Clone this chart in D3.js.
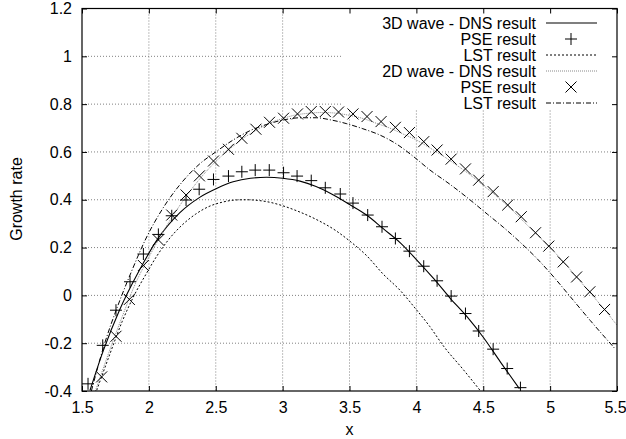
<!DOCTYPE html>
<html>
<head>
<meta charset="utf-8">
<script src="https://cdn.jsdelivr.net/npm/d3@7"></script>
<style>
  body { margin: 0; background: #fff; }
  svg text { font-family: "Liberation Sans", Arial, sans-serif; font-size: 16px; fill: #000; }
</style>
</head>
<body>
<div id="chart"></div>
<script>
// tick values / labels
var xTicks = [1.5, 2, 2.5, 3, 3.5, 4, 4.5, 5, 5.5];
var xTickLabels = ["1.5", "2", "2.5", "3", "3.5", "4", "4.5", "5", "5.5"];
var yTicks = [-0.4, -0.2, 0, 0.2, 0.4, 0.6, 0.8, 1, 1.2];
var yTickLabels = ["-0.4", "-0.2", "0", "0.2", "0.4", "0.6", "0.8", "1", "1.2"];

// 3D wave - DNS result (solid)
var dns3dX = [1.56, 1.66, 1.78, 1.93, 2.06, 2.23, 2.38, 2.51, 2.63, 2.76, 2.88, 3.0, 3.13, 3.25, 3.38, 3.5, 3.63, 3.75, 3.88, 4.0, 4.13, 4.25, 4.38, 4.5, 4.63, 4.77];
var dns3dY = [-0.397, -0.23, -0.062, 0.106, 0.231, 0.345, 0.41, 0.448, 0.475, 0.49, 0.494, 0.49, 0.478, 0.455, 0.42, 0.38, 0.335, 0.28, 0.22, 0.15, 0.07, -0.01, -0.09, -0.175, -0.28, -0.39];

// 3D wave - PSE result (+)
var pse3dX = [1.545, 1.655, 1.754, 1.859, 1.959, 2.071, 2.171, 2.278, 2.376, 2.483, 2.595, 2.695, 2.795, 2.900, 3.007, 3.108, 3.214, 3.319, 3.431, 3.526, 3.636, 3.743, 3.843, 3.948, 4.055, 4.155, 4.260, 4.367, 4.466, 4.574, 4.679, 4.778];
var pse3dY = [-0.37, -0.209, -0.062, 0.057, 0.173, 0.255, 0.333, 0.399, 0.444, 0.485, 0.499, 0.517, 0.524, 0.524, 0.513, 0.499, 0.480, 0.450, 0.424, 0.386, 0.336, 0.287, 0.238, 0.185, 0.122, 0.061, -0.003, -0.076, -0.149, -0.225, -0.306, -0.386];

// 3D wave - LST result (dotted)
var lst3dX = [1.61, 1.71, 1.80, 1.89, 1.98, 2.06, 2.15, 2.25, 2.35, 2.45, 2.55, 2.65, 2.72, 2.8, 2.9, 3.0, 3.1, 3.25, 3.4, 3.5, 3.63, 3.75, 3.88, 4.0, 4.1, 4.2, 4.35, 4.48];
var lst3dY = [-0.397, -0.243, -0.11, 0.0, 0.09, 0.165, 0.235, 0.295, 0.34, 0.372, 0.39, 0.399, 0.40, 0.398, 0.39, 0.375, 0.355, 0.318, 0.27, 0.228, 0.165, 0.09, 0.02, -0.06, -0.13, -0.21, -0.31, -0.40];

// 2D wave - DNS result (grey dotted)
var dns2dX = [1.6, 1.7, 1.8, 1.9, 2.0, 2.1, 2.2, 2.3, 2.4, 2.5, 2.6, 2.7, 2.8, 2.9, 3.0, 3.1, 3.2, 3.3, 3.4, 3.5, 3.6, 3.7, 3.8, 3.9, 4.0, 4.1, 4.2, 4.3, 4.4, 4.5, 4.6, 4.7, 4.8, 4.9, 5.0, 5.1, 5.2, 5.3, 5.4, 5.5];
var dns2dY = [-0.40, -0.24, -0.09, 0.05, 0.16, 0.26, 0.35, 0.43, 0.50, 0.56, 0.61, 0.655, 0.69, 0.72, 0.74, 0.755, 0.762, 0.765, 0.762, 0.753, 0.74, 0.72, 0.70, 0.675, 0.65, 0.617, 0.583, 0.545, 0.505, 0.46, 0.415, 0.365, 0.31, 0.255, 0.20, 0.14, 0.075, 0.01, -0.055, -0.125];

// 2D wave - PSE result (x)
var pse2dX = [1.647, 1.754, 1.854, 1.959, 2.071, 2.171, 2.278, 2.378, 2.483, 2.595, 2.695, 2.800, 2.902, 3.007, 3.111, 3.214, 3.319, 3.418, 3.526, 3.631, 3.736, 3.843, 3.948, 4.055, 4.155, 4.260, 4.367, 4.466, 4.574, 4.683, 4.784, 4.891, 4.990, 5.098, 5.198, 5.297, 5.407];
var pse2dY = [-0.341, -0.171, -0.017, 0.125, 0.232, 0.336, 0.420, 0.500, 0.562, 0.611, 0.657, 0.695, 0.724, 0.741, 0.759, 0.769, 0.769, 0.767, 0.759, 0.748, 0.727, 0.703, 0.681, 0.643, 0.608, 0.570, 0.529, 0.482, 0.434, 0.378, 0.329, 0.262, 0.206, 0.140, 0.077, 0.015, -0.059];

// 2D wave - LST result (dash-dot)
var lst2dX = [1.57, 1.67, 1.77, 1.87, 1.98, 2.1, 2.25, 2.38, 2.5, 2.63, 2.76, 2.88, 3.0, 3.13, 3.25, 3.36, 3.48, 3.6, 3.73, 3.86, 3.98, 4.1, 4.25, 4.4, 4.53, 4.65, 4.78, 4.9, 5.03, 5.15, 5.3, 5.48];
var lst2dY = [-0.40, -0.20, -0.04, 0.10, 0.24, 0.36, 0.475, 0.55, 0.60, 0.65, 0.69, 0.715, 0.733, 0.743, 0.743, 0.734, 0.718, 0.697, 0.67, 0.63, 0.58, 0.525, 0.465, 0.40, 0.34, 0.285, 0.22, 0.155, 0.075, -0.005, -0.105, -0.22];

var legendLabels = ["3D wave - DNS result", "PSE result", "LST result", "2D wave - DNS result", "PSE result", "LST result"];

var W = 626, H = 439;
var margin = {top: 8.5, right: 9, bottom: 48, left: 82};
var width = W - margin.left - margin.right,
    height = H - margin.top - margin.bottom;

var svg = d3.select("#chart").append("svg")
    .attr("width", W)
    .attr("height", H)
  .append("g")
    .attr("transform", "translate(" + margin.left + "," + margin.top + ")");

var x = d3.scaleLinear().domain([1.5, 5.5]).range([0, width]);
var y = d3.scaleLinear().domain([-0.4, 1.2]).range([height, 0]);

// grid
svg.append("g").attr("class", "grid")
  .selectAll("line.gx")
  .data(xTicks.slice(1, -1))
  .enter().append("line")
  .attr("x1", function(d){ return x(d); }).attr("x2", function(d){ return x(d); })
  .attr("y1", 0).attr("y2", height)
  .attr("stroke", "#808080").attr("stroke-width", 1).attr("stroke-dasharray", "1,2");
svg.select(".grid")
  .selectAll("line.gy")
  .data(yTicks.slice(1, -1))
  .enter().append("line")
  .attr("x1", 0).attr("x2", width)
  .attr("y1", function(d){ return y(d); }).attr("y2", function(d){ return y(d); })
  .attr("stroke", "#808080").attr("stroke-width", 1).attr("stroke-dasharray", "1,2");

// key background hides grid
var keyLeft = 343 - margin.left;
svg.append("rect")
  .attr("x", keyLeft).attr("y", 0)
  .attr("width", width - keyLeft).attr("height", 110 - margin.top)
  .attr("fill", "#fff");

svg.append("clipPath").attr("id", "clip")
  .append("rect").attr("width", width).attr("height", height);

function toPts(xs, ys){
  return xs.map(function(v, i){ return [v, ys[i]]; });
}

var line = d3.line()
  .x(function(d){ return x(d[0]); })
  .y(function(d){ return y(d[1]); })
  .curve(d3.curveMonotoneX);

var plot = svg.append("g").attr("clip-path", "url(#clip)");

var styles = [
  {stroke: "#000", dash: null, w: 1.1},
  {stroke: "#000", dash: "2,2", w: 1},
  {stroke: "#888", dash: "1,1", w: 1},
  {stroke: "#000", dash: "5,2,1,2", w: 1}
];

plot.append("path").datum(toPts(dns3dX, dns3dY))
  .attr("d", line).attr("fill", "none")
  .attr("stroke", styles[0].stroke).attr("stroke-width", styles[0].w);
plot.append("path").datum(toPts(lst3dX, lst3dY))
  .attr("d", line).attr("fill", "none")
  .attr("stroke", styles[1].stroke).attr("stroke-width", styles[1].w).attr("stroke-dasharray", styles[1].dash);
plot.append("path").datum(toPts(dns2dX, dns2dY))
  .attr("d", line).attr("fill", "none")
  .attr("stroke", styles[2].stroke).attr("stroke-width", styles[2].w).attr("stroke-dasharray", styles[2].dash);
plot.append("path").datum(toPts(lst2dX, lst2dY))
  .attr("d", line).attr("fill", "none")
  .attr("stroke", styles[3].stroke).attr("stroke-width", styles[3].w).attr("stroke-dasharray", styles[3].dash);

var ms = 6;
function plusPath(cx, cy){
  return "M" + (cx - ms) + "," + cy + "H" + (cx + ms) + "M" + cx + "," + (cy - ms) + "V" + (cy + ms);
}
function crossPath(cx, cy){
  var s = ms - 0.5;
  return "M" + (cx - s) + "," + (cy - s) + "L" + (cx + s) + "," + (cy + s) +
         "M" + (cx - s) + "," + (cy + s) + "L" + (cx + s) + "," + (cy - s);
}

plot.selectAll(".plus")
  .data(toPts(pse3dX, pse3dY))
  .enter().append("path")
  .attr("class", "plus")
  .attr("d", function(d){ return plusPath(x(d[0]), y(d[1])); })
  .attr("stroke", "#000").attr("stroke-width", 1).attr("fill", "none");

plot.selectAll(".cross")
  .data(toPts(pse2dX, pse2dY))
  .enter().append("path")
  .attr("class", "cross")
  .attr("d", function(d){ return crossPath(x(d[0]), y(d[1])); })
  .attr("stroke", "#000").attr("stroke-width", 1).attr("fill", "none");

// axes, ticks inward on all four sides
function fmt(labels, ticks){
  return function(d){ return labels[ticks.indexOf(d)]; };
}
var gB = svg.append("g").attr("transform", "translate(0," + height + ")")
  .call(d3.axisBottom(x).tickValues(xTicks).tickFormat(fmt(xTickLabels, xTicks)).tickSizeInner(-5).tickSizeOuter(0).tickPadding(11));
var gT = svg.append("g")
  .call(d3.axisTop(x).tickValues(xTicks).tickFormat("").tickSizeInner(-5).tickSizeOuter(0));
var gL = svg.append("g")
  .call(d3.axisLeft(y).tickValues(yTicks).tickFormat(fmt(yTickLabels, yTicks)).tickSizeInner(-5).tickSizeOuter(0).tickPadding(10));
var gR = svg.append("g").attr("transform", "translate(" + width + ",0)")
  .call(d3.axisRight(y).tickValues(yTicks).tickFormat("").tickSizeInner(-5).tickSizeOuter(0));

[gB, gT, gL, gR].forEach(function(g){
  g.selectAll(".domain").remove();
  g.selectAll(".tick line").attr("stroke", "#000");
  g.selectAll("text").attr("font-family", null).attr("font-size", null).attr("fill", "#000");
  g.attr("font-family", null).attr("font-size", null);
});
// the last x label sits right at the page edge, as in the reference
gB.selectAll(".tick text").filter(function(d){ return d === 5.5; }).attr("dx", -2);

svg.append("rect")
  .attr("width", width).attr("height", height)
  .attr("fill", "none").attr("stroke", "#000").attr("stroke-width", 1.2);

// axis titles
svg.append("text")
  .attr("x", x(3.5)).attr("y", 435 - margin.top)
  .attr("text-anchor", "middle")
  .text("x");
svg.append("text")
  .attr("transform", "translate(" + (22 - margin.left) + "," + (199 - margin.top) + ") rotate(-90)")
  .attr("text-anchor", "middle")
  .text("Growth rate");

// key
var key = svg.append("g").attr("transform", "translate(" + (536 - margin.left) + "," + (23 - margin.top) + ")");
var rowH = 16;
legendLabels.forEach(function(lbl, i){
  var ry = i * rowH;
  key.append("text")
    .attr("x", 0).attr("y", ry).attr("dy", "0.35em")
    .attr("text-anchor", "end")
    .text(lbl);
  var sx1 = 10, sx2 = 61, sc = 35;
  if (i === 1) {
    key.append("path").attr("d", plusPath(sc, ry)).attr("stroke", "#000").attr("fill", "none");
  } else if (i === 4) {
    key.append("path").attr("d", crossPath(sc, ry)).attr("stroke", "#000").attr("fill", "none");
  } else {
    var st = styles[[0, 0, 1, 2, 2, 3][i]];
    key.append("line")
      .attr("x1", sx1).attr("x2", sx2).attr("y1", ry).attr("y2", ry)
      .attr("stroke", st.stroke).attr("stroke-width", st.w)
      .attr("stroke-dasharray", st.dash);
  }
});
</script>
</body>
</html>
